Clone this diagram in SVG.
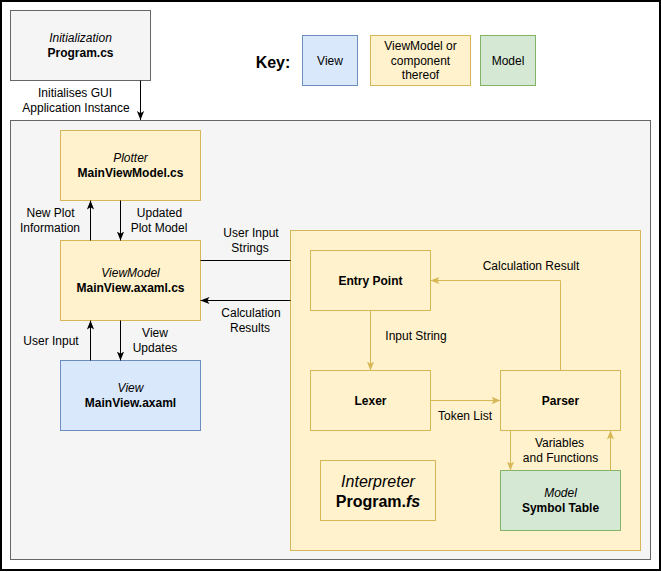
<svg xmlns="http://www.w3.org/2000/svg" width="661" height="572" viewBox="0 0 661 572">
<defs>
<marker id="ab" viewBox="0 0 10 10" refX="10" refY="5" markerWidth="9" markerHeight="9" markerUnits="userSpaceOnUse" orient="auto"><path d="M0,1 L10,5 L0,9 L2.5,5 Z" fill="#000"/></marker>
<marker id="ay" viewBox="0 0 10 10" refX="10" refY="5" markerWidth="9" markerHeight="9" markerUnits="userSpaceOnUse" orient="auto"><path d="M0,1 L10,5 L0,9 L2.5,5 Z" fill="#d6b656"/></marker>
<style>
text{font-family:"Liberation Sans",Arial,sans-serif;font-size:12px;fill:#000;text-anchor:middle}
.i{font-style:italic}
.b{font-weight:bold}
.gray{fill:#f5f5f5;stroke:#666666;stroke-width:1}
.yel{fill:#fff2cc;stroke:#d6b656;stroke-width:1}
.blu{fill:#dae8fc;stroke:#6c8ebf;stroke-width:1}
.grn{fill:#d5e8d4;stroke:#82b366;stroke-width:1}
.lb{fill:none;stroke:#000;stroke-width:1}
.ly{fill:none;stroke:#d6b656;stroke-width:1}
</style>
</defs>
<rect x="1" y="1" width="659" height="569" fill="#fff" stroke="#000" stroke-width="2"/>
<g id="app-container"><rect class="gray" x="10.5" y="120.5" width="640" height="439"/></g>
<g id="interpreter-container"><rect class="yel" x="290.5" y="230.5" width="350" height="320"/></g>
<g id="initialization"><rect class="gray" x="10.5" y="10.5" width="140" height="70"/><text class="i" x="80.5" y="41.5">Initialization</text><text class="b" x="80.5" y="56.5">Program.cs</text></g>
<g id="key"><text class="b" x="273" y="67.5" style="font-size:16px">Key:</text></g>
<g id="key-view"><rect class="blu" x="302.5" y="35.5" width="55" height="50"/><text x="330" y="64.5">View</text></g>
<g id="key-viewmodel"><rect class="yel" x="370.5" y="35.5" width="100" height="50"/><text x="420.5" y="50">ViewModel or</text><text x="420.5" y="64.5">component</text><text x="420.5" y="79">thereof</text></g>
<g id="key-model"><rect class="grn" x="480.5" y="35.5" width="55" height="50"/><text x="508" y="64.5">Model</text></g>
<g id="plotter"><rect class="yel" x="60.5" y="130.5" width="140" height="70"/><text class="i" x="130.5" y="161.5">Plotter</text><text class="b" x="130.5" y="177">MainViewModel.cs</text></g>
<g id="viewmodel"><rect class="yel" x="60.5" y="240.5" width="140" height="80"/><text class="i" x="130.5" y="277">ViewModel</text><text class="b" x="130.5" y="292">MainView.axaml.cs</text></g>
<g id="view"><rect class="blu" x="60.5" y="360.5" width="140" height="70"/><text class="i" x="130.5" y="391.5">View</text><text class="b" x="130.5" y="407">MainView.axaml</text></g>
<g id="entry-point"><rect class="yel" x="310.5" y="250.5" width="120" height="60"/><text class="b" x="370.5" y="285">Entry Point</text></g>
<g id="lexer"><rect class="yel" x="310.5" y="370.5" width="120" height="60"/><text class="b" x="370.5" y="405">Lexer</text></g>
<g id="parser"><rect class="yel" x="500.5" y="370.5" width="120" height="60"/><text class="b" x="560.5" y="405">Parser</text></g>
<g id="symbol-table"><rect class="grn" x="500.5" y="470.5" width="120" height="60"/><text class="i" x="560.5" y="496.5">Model</text><text class="b" x="560.5" y="511.5">Symbol Table</text></g>
<g id="interpreter-label"><rect class="yel" x="320.5" y="460.5" width="115" height="60"/><text class="i" x="378" y="486.5" style="font-size:16px">Interpreter</text><text class="b" x="378" y="506.5" style="font-size:16px">Program.<tspan class="i">fs</tspan></text></g>
<g id="connectors">
<path class="lb" d="M140.5,80.5 V120" marker-end="url(#ab)"/>
<text x="75" y="97">Initialises GUI</text><text x="76" y="112">Application Instance</text>
<path class="lb" d="M90.5,240.5 V200.5" marker-end="url(#ab)"/>
<text x="50.5" y="217">New Plot</text><text x="50" y="232">Information</text>
<path class="lb" d="M120.5,200.5 V240.5" marker-end="url(#ab)"/>
<text x="159.5" y="217">Updated</text><text x="159" y="232">Plot Model</text>
<path class="lb" d="M200.5,260.5 H290.5"/>
<text x="251" y="237">User Input</text><text x="250" y="251.5">Strings</text>
<path class="lb" d="M290.5,300.5 H200.5" marker-end="url(#ab)"/>
<text x="251" y="317">Calculation</text><text x="250" y="331.5">Results</text>
<path class="lb" d="M90.5,360.5 V320.5" marker-end="url(#ab)"/>
<text x="51" y="345">User Input</text>
<path class="lb" d="M120.5,320.5 V360.5" marker-end="url(#ab)"/>
<text x="155" y="336.5">View</text><text x="155" y="351.5">Updates</text>
<path class="ly" d="M370.5,310.5 V370.5" marker-end="url(#ay)"/>
<text x="416" y="340">Input String</text>
<path class="ly" d="M430.5,400.5 H500.5" marker-end="url(#ay)"/>
<text x="465" y="420">Token List</text>
<path class="ly" d="M560.5,370.5 V280.5 H430.5" marker-end="url(#ay)"/>
<text x="531" y="270">Calculation Result</text>
<path class="ly" d="M510.5,430.5 V470.5" marker-end="url(#ay)"/>
<path class="ly" d="M610.5,470.5 V430.5" marker-end="url(#ay)"/>
<text x="559.5" y="446.5">Variables</text><text x="560.5" y="461.5">and Functions</text>
</g>
</svg>
